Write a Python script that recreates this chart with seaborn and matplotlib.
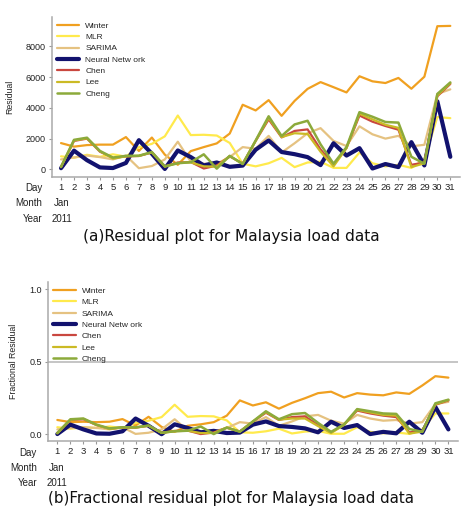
import numpy as np
import pandas as pd
import matplotlib
matplotlib.use('Agg')
import matplotlib.pyplot as plt
import seaborn as sns

days = list(range(1, 32))
models = ['Winter', 'MLR', 'SARIMA', 'Neural Network', 'Chen', 'Lee', 'Cheng']
legend_labels = ['Winter', 'MLR', 'SARIMA', 'Neural Netw ork', 'Chen', 'Lee', 'Cheng']
colors = ['#F0A020', '#FFEA4C', '#E5C281', '#12126E', '#C9473F', '#CBBA25', '#8CAA3B']
widths = [1.6, 1.6, 1.6, 3.0, 1.6, 1.6, 1.8]

# residuals (a)
winter = [1710, 1480, 1580, 1610, 1610, 2100, 1200, 2070, 960, 300, 1190, 1450, 1690, 2330, 4200, 3830,
          4500, 3480, 4450, 5230, 5670, 5340, 5000, 6050, 5720, 5610, 5940, 5240, 6020, 9300, 9320]
mlr = [850, 760, 950, 820, 980, 830, 1450, 1660, 2150, 3500, 2230, 2250, 2200, 1720, 370, 200,
       400, 750, 150, 450, 500, 100, 100, 1100, 400, 200, 300, 100, 650, 3400, 3330]
sarima = [650, 780, 900, 800, 650, 900, 80, 220, 650, 1800, 500, 370, 370, 800, 1450, 1340,
          2180, 1100, 1700, 2350, 2680, 1850, 1520, 2800, 2280, 2000, 2180, 1500, 1600, 4900, 5200]
nn = [80, 1220, 600, 130, 90, 420, 1900, 1020, 30, 1230, 800, 260, 450, 170, 250, 1280,
      1880, 1130, 990, 800, 280, 1700, 900, 1380, 60, 350, 150, 1770, 260, 4420, 820]
chen = [170, 1850, 2000, 1150, 750, 850, 870, 1100, 200, 450, 480, 60, 250, 850, 380, 1850,
        3250, 2080, 2500, 2600, 1300, 300, 1400, 3500, 3100, 2820, 2580, 300, 450, 4750, 5550]
lee = [150, 1880, 2020, 1180, 700, 850, 880, 1100, 180, 420, 460, 200, 180, 880, 360, 1860,
       3350, 2100, 2350, 2300, 1150, 200, 1380, 3620, 3250, 2900, 2700, 150, 400, 4800, 5600]
cheng = [170, 1920, 2060, 1200, 770, 880, 890, 1130, 200, 400, 470, 980, 50, 880, 350, 1880,
         3450, 2170, 2920, 3160, 1630, 370, 1450, 3720, 3420, 3080, 3040, 820, 370, 4900, 5650]

# fractional residuals (b)
winter_f = [0.100, 0.085, 0.088, 0.085, 0.088, 0.106, 0.062, 0.122, 0.052, 0.018, 0.060, 0.070, 0.085, 0.130, 0.235, 0.200,
            0.222, 0.178, 0.218, 0.250, 0.285, 0.295, 0.255, 0.285, 0.275, 0.270, 0.290, 0.280, 0.338, 0.402, 0.392]
mlr_f = [0.050, 0.040, 0.050, 0.045, 0.055, 0.045, 0.080, 0.095, 0.120, 0.205, 0.122, 0.127, 0.125, 0.097, 0.015, 0.012,
         0.022, 0.040, 0.007, 0.020, 0.025, 0.005, 0.005, 0.050, 0.018, 0.008, 0.014, 0.004, 0.035, 0.145, 0.145]
sarima_f = [0.035, 0.045, 0.050, 0.045, 0.035, 0.050, 0.004, 0.012, 0.035, 0.105, 0.028, 0.020, 0.020, 0.045, 0.085, 0.075,
            0.120, 0.060, 0.090, 0.125, 0.135, 0.095, 0.075, 0.135, 0.110, 0.095, 0.100, 0.075, 0.085, 0.210, 0.225]
nn_f = [0.003, 0.068, 0.035, 0.007, 0.005, 0.022, 0.110, 0.060, 0.002, 0.070, 0.045, 0.015, 0.025, 0.010, 0.013, 0.068,
        0.090, 0.058, 0.052, 0.042, 0.015, 0.088, 0.045, 0.065, 0.003, 0.018, 0.008, 0.088, 0.012, 0.190, 0.035]
chen_f = [0.010, 0.100, 0.105, 0.065, 0.040, 0.048, 0.047, 0.060, 0.012, 0.025, 0.027, 0.003, 0.014, 0.046, 0.021, 0.088,
          0.150, 0.100, 0.120, 0.125, 0.065, 0.015, 0.068, 0.165, 0.145, 0.130, 0.120, 0.015, 0.022, 0.205, 0.235]
lee_f = [0.008, 0.102, 0.108, 0.066, 0.038, 0.048, 0.048, 0.060, 0.010, 0.023, 0.026, 0.010, 0.010, 0.048, 0.020, 0.089,
         0.155, 0.102, 0.110, 0.110, 0.058, 0.010, 0.066, 0.170, 0.152, 0.135, 0.130, 0.006, 0.020, 0.208, 0.238]
cheng_f = [0.010, 0.105, 0.110, 0.068, 0.042, 0.050, 0.049, 0.062, 0.012, 0.022, 0.026, 0.055, 0.003, 0.048, 0.019, 0.090,
           0.160, 0.105, 0.140, 0.148, 0.080, 0.018, 0.070, 0.175, 0.160, 0.145, 0.142, 0.038, 0.018, 0.215, 0.240]

resid = [winter, mlr, sarima, nn, chen, lee, cheng]
frac = [winter_f, mlr_f, sarima_f, nn_f, chen_f, lee_f, cheng_f]

sns.set_style('white')
plt.rcParams['font.family'] = ['Liberation Sans', 'DejaVu Sans']

fig = plt.figure(figsize=(4.68, 5.14), dpi=100)
ax1 = fig.add_axes([0.111, 0.656, 0.872, 0.311])
ax2 = fig.add_axes([0.103, 0.142, 0.876, 0.309])

def draw(ax, series, ylabel, ylim, yticks, yfmt):
    for vals, lab, c, w in zip(series, legend_labels, colors, widths):
        sns.lineplot(x=days, y=vals, color=c, lw=w, label=lab, ax=ax)
    ax.set_xlim(0.3, 31.75)
    ax.set_ylim(*ylim)
    ax.set_xticks(days)
    ax.set_xticklabels([str(d) for d in days], fontsize=6.8, color='#222222')
    ax.set_yticks(yticks)
    ax.set_yticklabels([yfmt.format(t) for t in yticks], fontsize=6.5, color='#222222')
    ax.set_ylabel(ylabel, fontsize=6.3, color='#222222', labelpad=8)
    ax.tick_params(axis='both', length=2.5, width=0.8, color='#999999', pad=2, bottom=True, left=True)
    for s in ['top', 'right']:
        ax.spines[s].set_visible(False)
    for s in ['left', 'bottom']:
        ax.spines[s].set_color('#AAAAAA')
        ax.spines[s].set_linewidth(1.1)
    ax.legend(loc='upper left', frameon=False, fontsize=6, handlelength=2.7,
              handletextpad=0.7, labelspacing=0.42, borderaxespad=0.2,
              bbox_to_anchor=(0.0, 1.0))

draw(ax1, resid, 'Residual', (-480, 9900), [0, 2000, 4000, 6000, 8000], '{:.0f}')
draw(ax2, frac, 'Fractional Residual', (-0.045, 1.05), [0.0, 0.5, 1.0], '{:.1f}')
ax2.axhline(0.5, color='#BBBBBB', lw=1.2, zorder=0)

W, H = 468, 514
def ftext(x, y, s, **kw):
    fig.text(x / W, 1 - y / H, s, va='center', **kw)

# row labels under the day axis
for (dy, my, yy, xr, xc) in [(188, 203, 219, 42, 62), (453, 468, 483, 37, 57)]:
    ftext(xr, dy, 'Day', ha='right', fontsize=7, color='#222222')
    ftext(xr, my, 'Month', ha='right', fontsize=7, color='#222222')
    ftext(xr, yy, 'Year', ha='right', fontsize=7, color='#222222')
    ftext(xc, my, 'Jan', ha='center', fontsize=7, color='#222222')
    ftext(xc, yy, '2011', ha='center', fontsize=7, color='#222222')

ftext(231, 237, '(a)Residual plot for Malaysia load data', ha='center', fontsize=11.1,
      family=['DejaVu Sans'], color='#111111')
ftext(231, 499, '(b)Fractional residual plot for Malaysia load data', ha='center', fontsize=10.9,
      family=['DejaVu Sans'], color='#111111')

fig.savefig('out.png', dpi=100)
